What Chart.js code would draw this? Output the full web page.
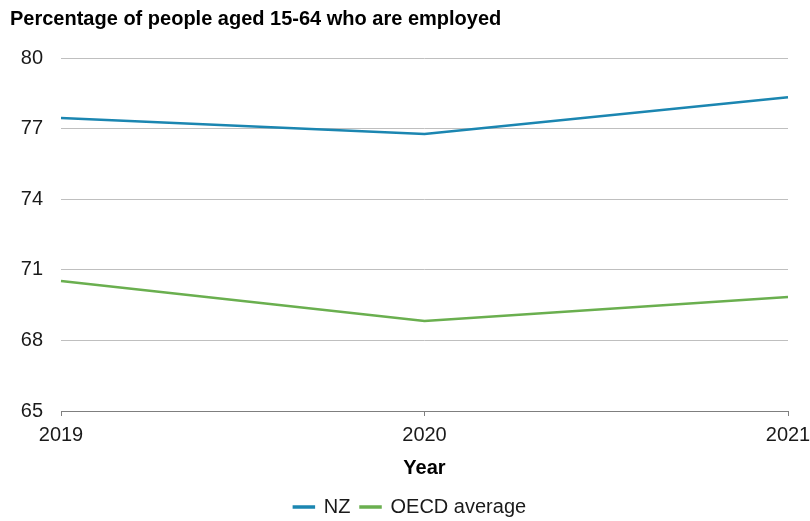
<!DOCTYPE html>
<html>
<head>
<meta charset="utf-8">
<script src="https://cdn.jsdelivr.net/npm/chart.js@4/dist/chart.umd.min.js"></script>
<style>
  html, body { margin: 0; padding: 0; background: #ffffff; overflow: hidden; }
  #wrap { width: 810px; height: 527px; position: relative; }
</style>
</head>
<body>
<div id="wrap"><canvas id="c"></canvas></div>
<script>
const years = ['2019', '2020', '2021'];
const nzValues = [77.45, 76.77, 78.33];
const oecdValues = [70.52, 68.82, 69.84];
const yTicks = [65, 68, 71, 74, 77, 80];

const FONT = "'Liberation Sans', Arial, sans-serif";

new Chart(document.getElementById('c'), {
  type: 'line',
  data: {
    labels: years,
    datasets: [
      { label: 'NZ', data: nzValues, borderColor: '#1B86B1', backgroundColor: '#1B86B1', borderWidth: 2.5, pointRadius: 0, tension: 0 },
      { label: 'OECD average', data: oecdValues, borderColor: '#6AAF4F', backgroundColor: '#6AAF4F', borderWidth: 2.5, pointRadius: 0, tension: 0 }
    ]
  },
  options: {
    responsive: true,
    maintainAspectRatio: false,
    animation: false,
    layout: { padding: { left: 10, right: 0, top: 0, bottom: 0 } },
    plugins: {
      title: {
        display: true,
        text: 'Percentage of people aged 15-64 who are employed',
        align: 'start',
        color: '#000000',
        font: { family: FONT, size: 20, weight: 'bold', lineHeight: 1.2 },
        padding: { top: 7, bottom: 27 }
      },
      legend: {
        position: 'bottom',
        labels: {
          color: '#1a1a1a',
          font: { family: FONT, size: 20 },
          boxWidth: 20,
          boxHeight: 1,
          padding: 10
        }
      },
      tooltip: { enabled: false }
    },
    scales: {
      x: {
        type: 'category',
        offset: false,
        afterFit: s => { s.height = 76; s.paddingRight = 22; s.paddingLeft = 0; },
        grid: { drawOnChartArea: false, drawTicks: true, tickLength: 5, color: '#7F7F7F' },
        border: { display: true, color: '#7F7F7F', width: 1 },
        ticks: { color: '#1a1a1a', font: { family: FONT, size: 20 }, padding: 7, maxRotation: 0, autoSkip: false },
        title: { display: true, text: 'Year', color: '#000000', font: { family: FONT, size: 20, weight: 'bold', lineHeight: 1.2 }, padding: { top: 0, bottom: 7 } }
      },
      y: {
        min: 65,
        max: 80,
        afterFit: s => { s.width = 51; },
        afterBuildTicks: s => { s.ticks = yTicks.map(v => ({ value: v })); },
        grid: { drawTicks: false, color: '#BFBFBF', lineWidth: 1 },
        border: { display: false },
        ticks: { color: '#1a1a1a', font: { family: FONT, size: 20 }, padding: 18 }
      }
    }
  }
});
</script>
</body>
</html>
